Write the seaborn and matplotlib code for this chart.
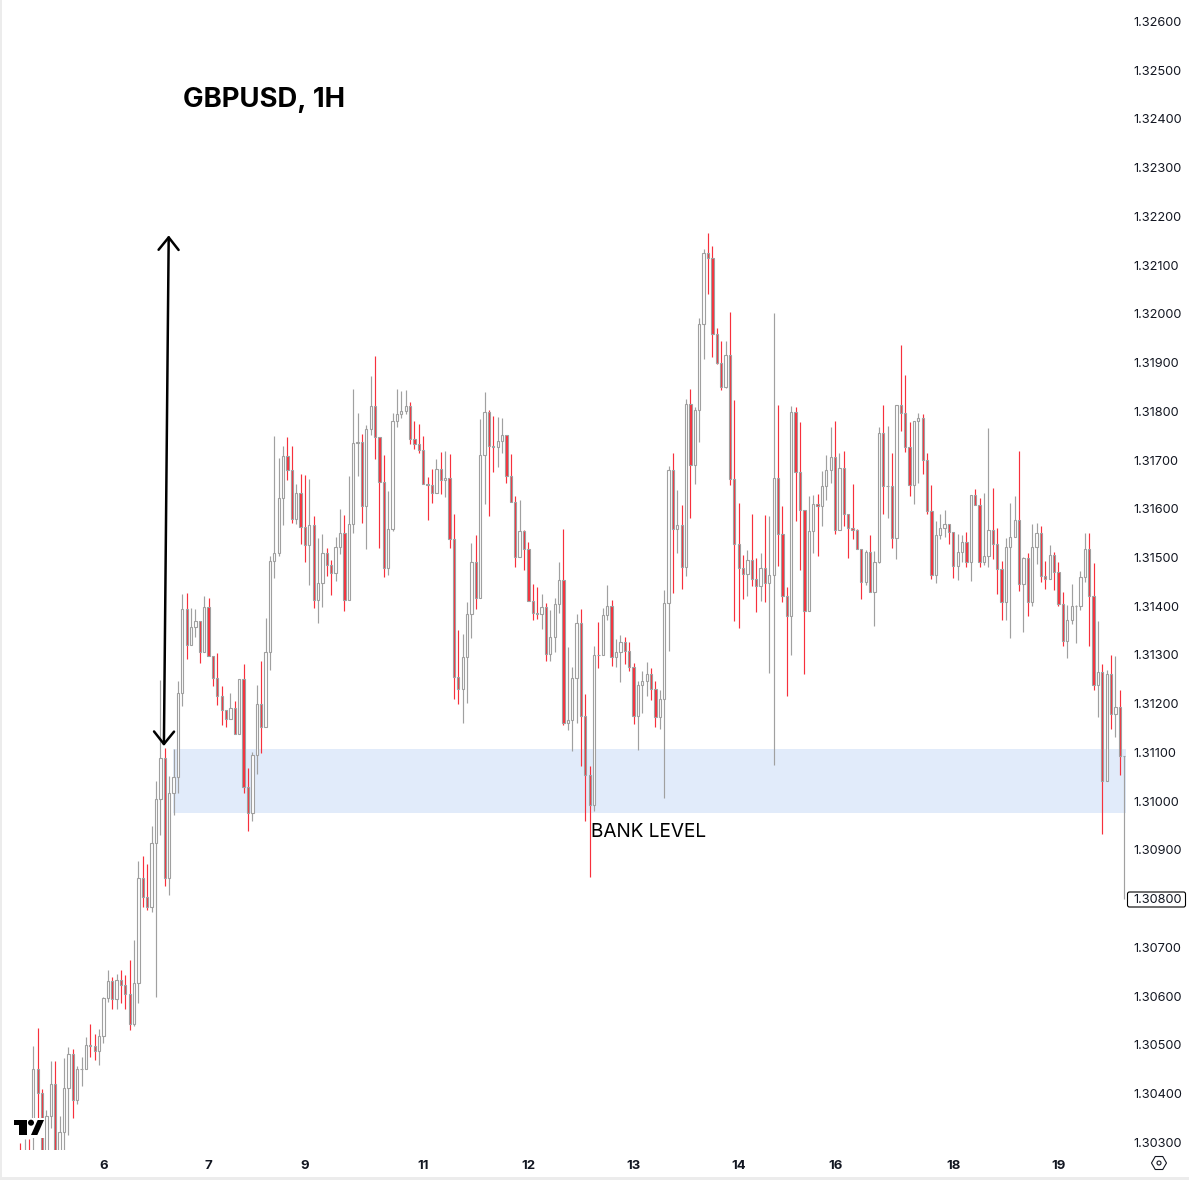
import numpy as np
import pandas as pd
import matplotlib
matplotlib.use("Agg")
import matplotlib.pyplot as plt
import seaborn as sns
from matplotlib.patches import Rectangle, Polygon, Circle, RegularPolygon, FancyBboxPatch

# prices are in points (1 point = 0.00001)
closes = [
    130239,130274,130253,130450,130401,130263,130354,130419,130233,130321,
    130411,130481,130386,130450,130451,130499,130498,130487,130518,130596,
    130631,130594,130633,130622,130604,130542,130627,130842,130803,130782,
    130914,131004,131088,130842,131016,131049,131222,131394,131320,131357,
    131369,131306,131398,131298,131252,131215,131187,131168,131191,131137,
    131250,131029,130975,131094,131199,131152,131306,131492,131509,131622,
    131708,131679,131579,131632,131562,131525,131566,131412,131447,131509,
    131484,131468,131521,131550,131412,131568,131735,131737,131605,131763,
    131811,131747,131655,131478,131558,131780,131794,131800,131811,131743,
    131733,131720,131650,131649,131632,131681,131659,131663,131538,131254,
    131230,131295,131384,131490,131417,131710,131798,131728,131727,131739,
    131751,131667,131614,131501,131554,131517,131410,131386,131384,131398,
    131302,131337,131404,131453,131160,131166,131252,131365,131174,131053,
    130992,131300,131299,131382,131400,131295,131306,131326,131308,131275,
    131174,131238,131246,131261,131230,131172,131209,131406,131679,131558,
    131566,131480,131815,131689,131802,131979,132125,132114,131958,131899,
    131850,131915,131661,131527,131478,131466,131495,131456,131441,131478,
    131447,131464,131663,131548,131421,131380,131798,131675,131597,131390,
    131554,131609,131605,131646,131679,131706,131556,131683,131589,131560,
    131556,131517,131449,131511,131429,131490,131755,131646,131647,131540,
    131813,131796,131726,131648,131780,131786,131700,131595,131464,131546,
    131560,131568,131552,131482,131511,131531,131490,131628,131607,131490,
    131503,131556,131527,131476,131408,131521,131542,131577,131445,131499,
    131408,131521,131550,131462,131456,131505,131470,131404,131328,131371,
    131400,131401,131460,131517,131421,131238,131265,131041,131261,131179,
    131193,131092,131093,
]
highs = [
    130298,130306,130306,130497,130534,130409,130366,130466,130466,130354,
    130473,130495,130491,130456,130475,130516,130542,130522,130532,130598,
    130653,130639,130645,130653,130643,130674,130715,130877,130887,130871,
    130949,131041,131248,131109,131051,131107,131246,131425,131427,131396,
    131394,131369,131421,131417,131298,131304,131236,131187,131222,131205,
    131250,131281,131068,131101,131238,131287,131376,131503,131749,131704,
    131728,131747,131728,131650,131671,131669,131661,131585,131540,131548,
    131519,131495,131542,131599,131587,131667,131845,131796,131753,131772,
    131872,131913,131747,131710,131636,131796,131845,131841,131843,131819,
    131780,131774,131749,131665,131681,131702,131716,131718,131712,131589,
    131351,131343,131408,131529,131546,131784,131839,131802,131790,131788,
    131786,131751,131712,131626,131618,131556,131531,131445,131439,131425,
    131406,131392,131417,131490,131558,131316,131275,131384,131394,131220,
    131072,131318,131367,131396,131443,131412,131332,131341,131337,131326,
    131283,131246,131267,131285,131273,131246,131228,131433,131687,131714,
    131638,131607,131825,131845,131808,131991,132133,132166,132139,131971,
    131944,131944,132003,131823,131611,131505,131515,131589,131499,131509,
    131587,131585,132001,131813,131605,131439,131811,131808,131778,131597,
    131626,131628,131630,131677,131710,131767,131780,131714,131718,131589,
    131650,131558,131517,131515,131546,131513,131767,131813,131770,131714,
    131813,131936,131874,131778,131780,131796,131794,131714,131648,131575,
    131589,131597,131568,131552,131548,131546,131552,131628,131640,131622,
    131632,131765,131642,131560,131492,131540,131611,131626,131718,131501,
    131509,131568,131570,131564,131492,131525,131511,131490,131429,131402,
    131445,131402,131472,131550,131550,131488,131369,131281,131269,131300,
    131298,131228,131093,
]
lows = [
    130222,130212,130233,130253,130345,130243,130233,130329,130222,130222,
    130280,130315,130350,130378,130415,130450,130475,130469,130458,130503,
    130588,130573,130573,130585,130573,130530,130538,130585,130782,130776,
    130772,130598,130930,130826,130807,130971,131016,131195,131291,131320,
    131337,131283,131306,131298,131236,131197,131156,131152,131168,131137,
    131137,131016,130938,130959,131055,131098,131152,131269,131458,131503,
    131566,131659,131570,131568,131527,131490,131443,131396,131365,131398,
    131462,131423,131451,131507,131390,131412,131550,131667,131570,131517,
    131751,131702,131519,131460,131464,131554,131767,131786,131794,131733,
    131722,131714,131650,131577,131611,131632,131630,131624,131519,131209,
    131199,131160,131201,131334,131394,131417,131609,131585,131675,131685,
    131714,131653,131614,131480,131501,131474,131410,131371,131373,131353,
    131287,131287,131306,131386,131156,131146,131103,131160,131072,130959,
    130844,130979,131273,131300,131371,131277,131275,131244,131281,131267,
    131158,131105,131181,131215,131207,131152,131148,131006,131308,131427,
    131509,131435,131462,131581,131650,131737,131907,132040,131911,131897,
    131843,131847,131648,131369,131355,131415,131421,131441,131388,131410,
    131408,131263,131074,131482,131408,131215,131300,131575,131474,131261,
    131390,131509,131503,131564,131618,131653,131548,131556,131564,131499,
    131538,131517,131415,131443,131429,131359,131488,131589,131581,131519,
    131497,131759,131716,131626,131609,131653,131671,131589,131456,131447,
    131538,131542,131527,131458,131453,131490,131480,131451,131607,131480,
    131484,131480,131497,131425,131371,131371,131334,131542,131431,131347,
    131380,131400,131486,131449,131435,131456,131433,131400,131318,131293,
    131363,131324,131392,131449,131318,131228,131172,130932,131041,131148,
    131131,131053,130800,
]
first_open = 130267
fourth_open = 130345  # bar 4 gaps up from bar 3

day_labels = ["6", "7", "9", "11", "12", "13", "14", "16", "18", "19"]
day_bars = [19, 43, 65, 92, 116, 140, 164, 186, 213, 237]
price_ticks = [1.30300 + 0.001 * i for i in range(24)]
band_low, band_high = 1.30975, 1.31107
band_start_bar = 34.9
arrow_bottom = (32.8, 1.31113)
arrow_top = (33.9, 1.32161)
bank_label = (130.3, 1.30956)

# colours
GREY = "#a0a0a0"
RED = "#f7303c"
BAND = "#e1ebfa"
STRIP = "#ececec"

W, H = 1189, 1180


def fx(px):
    return px / W


def fy(py):
    return 1 - py / H


opens = [first_open] + closes[:-1]
opens[3] = fourth_open
df = pd.DataFrame({"bar": np.arange(len(closes)), "open": opens, "high": highs, "low": lows, "close": closes})
for col in ["open", "high", "low", "close"]:
    df[col] = df[col] / 100000
df["bottom"] = df[["open", "close"]].min(axis=1)
df["height"] = (df["close"] - df["open"]).abs()
up = df[df["close"] >= df["open"]]
down = df[df["close"] < df["open"]]

sns.set_theme(style="white")
plt.rcParams["font.family"] = ["Inter", "DejaVu Sans"]

fig = plt.figure(figsize=(W / 100, H / 100), dpi=100, facecolor="white")
ax = fig.add_axes([fx(2), fy(1150), fx(1126 - 2), fy(0) - fy(1150)])

# band under the candles
ax.fill_between([band_start_bar, len(closes) - 0.6], band_low, band_high, color=BAND, lw=0, zorder=0)

# wicks
ax.vlines(up["bar"], up["low"], up["high"], color=GREY, lw=0.85, zorder=1)
ax.vlines(down["bar"], down["low"], down["high"], color=RED, lw=0.85, zorder=1)

# bodies
sns.barplot(data=up, x="bar", y="height", bottom=up["bottom"].values, native_scale=True, width=0.52,
            color="white", saturation=1, edgecolor=GREY, linewidth=0.8, errorbar=None, ax=ax, zorder=2)
sns.barplot(data=down, x="bar", y="height", bottom=down["bottom"].values, native_scale=True, width=0.52,
            color=RED, saturation=1, edgecolor=GREY, linewidth=0.8, errorbar=None, ax=ax, zorder=2)

ax.set_xlim((2 - 20.2) / 4.381, (1126 - 20.2) / 4.381)
ax.set_ylim(1.30284, 1.32644)
ax.set_xlabel("")
ax.set_ylabel("")
for s in ax.spines.values():
    s.set_visible(False)
ax.set_facecolor("none")

ax.set_xticks(day_bars)
ax.set_xticklabels(day_labels, fontsize=9.5, fontweight="bold", color="#131722")
ax.yaxis.tick_right()
ax.set_yticks(price_ticks)
ax.set_yticklabels([f"{p:.5f}" for p in price_ticks], fontsize=9.2, color="#131722")
ax.tick_params(axis="x", length=0, pad=7)
ax.tick_params(axis="y", length=0, pad=5.5)

# last price tag, behind the axes so its tick label stays on top
fig.add_artist(FancyBboxPatch((1127.5, H - 907), 58, 15, boxstyle="round,pad=0,rounding_size=2", transform=None,
                              fc="white", ec="black", lw=0.8, zorder=-1))

# double arrow
ax.annotate("", xy=arrow_top, xytext=arrow_bottom, zorder=5,
            arrowprops=dict(arrowstyle="<->,head_length=0.75,head_width=0.6", color="black", lw=1.8,
                            shrinkA=0, shrinkB=0))

ax.text(*bank_label, "BANK LEVEL", fontsize=13.7, color="black", va="top", ha="left", zorder=5)
fig.text(fx(183), fy(100), "GBPUSD, 1H", fontsize=19.8, fontweight="bold", color="black", va="center", ha="left")

# tradingview logo
tf = fig.transFigure
fig.add_artist(Rectangle((fx(13), fy(1138)), fx(32), fy(1118) - fy(1138), transform=tf, fc="white", ec="none"))
fig.add_artist(Polygon([(fx(14), fy(1120)), (fx(27), fy(1120)), (fx(27), fy(1135)), (fx(19), fy(1135)),
                        (fx(19), fy(1125)), (fx(14), fy(1125))], transform=tf, fc="black", ec="none"))
fig.add_artist(Polygon([(fx(37.7), fy(1120)), (fx(44), fy(1120)), (fx(37.3), fy(1135)), (fx(31), fy(1135))],
                       transform=tf, fc="black", ec="none"))
fig.add_artist(Circle((31, H - 1122.7), 3, transform=None, fc="black", ec="none"))

# settings icon
fig.add_artist(RegularPolygon((1159, H - 1163), 6, radius=7.5, orientation=np.pi / 6, transform=None,
                              fc="white", ec="#131722", lw=0.8))
fig.add_artist(Circle((1159, H - 1163), 2, transform=None, fc="white", ec="#131722", lw=0.8))

# window edges
fig.add_artist(Rectangle((0, 0), fx(2), 1, transform=tf, fc=STRIP, ec="none"))
fig.add_artist(Rectangle((0, 0), 1, fy(1177), transform=tf, fc=STRIP, ec="none"))

fig.savefig("out.png", dpi=100)
